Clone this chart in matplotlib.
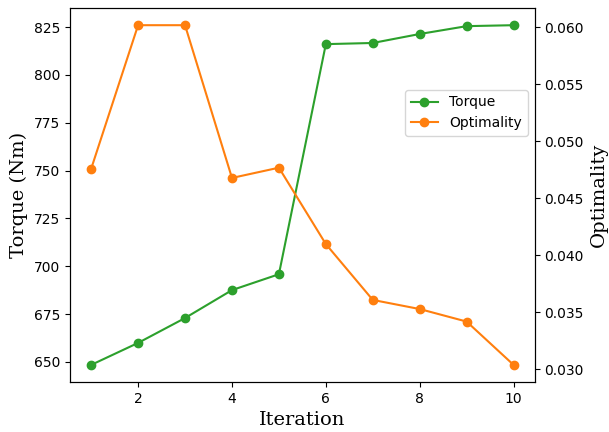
import matplotlib.pyplot as plt

iteration = [1, 2, 3, 4, 5, 6, 7, 8, 9, 10]
torque = [648.4, 659.9, 672.9, 687.5, 695.8, 816.1, 816.7, 821.4, 825.5, 826.0]
optimality = [0.0476, 0.0602, 0.0602, 0.0468, 0.0477, 0.0410, 0.0361, 0.0353, 0.0342, 0.0304]

fig, ax1 = plt.subplots(figsize=(6.09, 4.32), dpi=100)
fig.subplots_adjust(left=0.115, right=0.878, top=0.981, bottom=0.116)

l1, = ax1.plot(iteration, torque, c='#2ca02c', marker='o', label='Torque')
ax1.set_xlabel("Iteration", fontsize=14, family='DejaVu Serif')
ax1.set_ylabel("Torque (Nm)", fontsize=14, family='DejaVu Serif')

ax2 = ax1.twinx()
l2, = ax2.plot(iteration, optimality, c='#ff7f0e', marker='o', label='Optimality')
ax2.set_ylabel("Optimality", fontsize=14, family='DejaVu Serif')

ax1.legend(handles=[l1, l2], loc='center right', bbox_to_anchor=(1.0, 0.72))

fig.savefig("out.png")
